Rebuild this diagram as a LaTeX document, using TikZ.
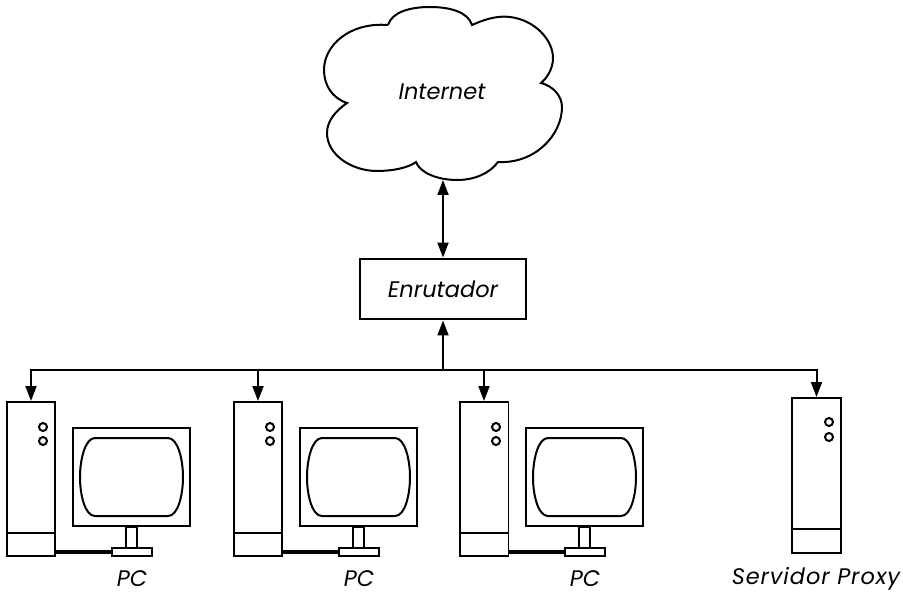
\documentclass[tikz,border=0pt]{standalone}
\usepackage{fontspec}
\setmainfont{Poppins}
\usetikzlibrary{arrows.meta}

\tikzset{
    outline/.style={draw=black,line width=0.04cm},
    link/.style={draw=black,line width=0.04cm,{Triangle[length=0.3cm,width=0.22cm]}-{Triangle[length=0.3cm,width=0.22cm]}},
    downlink/.style={draw=black,line width=0.04cm,-{Triangle[length=0.3cm,width=0.22cm]}},
    caseblock/.style={outline,shape=rectangle,minimum width=0.98cm,inner sep=0pt},
    led/.style={outline,shape=circle,minimum size=0.16cm,inner sep=0pt},
    caption/.style={font=\itshape\fontsize{12.8}{14}\selectfont,inner sep=0pt},
}

\begin{document}
\begin{tikzpicture}[x=0.02cm,y=-0.02cm]
    \useasboundingbox (0,0) rectangle (903,595);

    % cloud
    \path[outline] (388,25) .. controls (392,12) and (410,7) .. (430,7)
        .. controls (450,7) and (468,12) .. (472,25)
        .. controls (490,17) and (500,16) .. (510,17)
        .. controls (535,20) and (553,40) .. (553,58)
        .. controls (553,68) and (548,77) .. (541,83)
        .. controls (553,86) and (562,96) .. (562,107)
        .. controls (562,135) and (535,164) .. (498,162)
        .. controls (490,173) and (475,180) .. (457,180)
        .. controls (438,180) and (420,173) .. (416,162)
        .. controls (408,168) and (392,171) .. (377,171)
        .. controls (352,171) and (327,155) .. (327,133)
        .. controls (327,120) and (337,110) .. (347,103)
        .. controls (332,98) and (324,85) .. (324,70)
        .. controls (324,45) and (350,22) .. (388,25);
    \node[caption] (internet) at (442,92) {Internet};
    \coordinate (cloud) at (443,180);

    \node[outline,minimum width=3.34cm,minimum height=1.22cm,caption,inner sep=0pt] (router) at (443,289) {Enrutador};
    \coordinate (bus) at (443,370);

    \path[link] (cloud) -- (router);
    \path[downlink] (bus) -- (router);

    % pc towers and screens
    \foreach \n/\x in {a/0,b/227,c/453} {
        \begin{scope}[shift={(\x,0)}]
            \node[caseblock,minimum height=3.08cm] (case\n) at (31,479) {};
            \draw[outline] (6.5,533) -- (55.5,533);
            \node[led] (leda\n) at (43,427) {};
            \node[led] (ledb\n) at (43,441) {};

            \node[outline,minimum width=2.34cm,minimum height=1.96cm,inner sep=0pt] (monitor\n) at (131.5,477) {};
            \path[outline] (95,438) -- (168,438) .. controls (178,438) and (183,460) .. (183,477)
                .. controls (183,495) and (178,516) .. (168,516) -- (95,516)
                .. controls (85,516) and (80,495) .. (80,477) .. controls (80,460) and (85,438) .. (95,438);
            \node[outline,minimum width=0.22cm,minimum height=0.42cm,inner sep=0pt] (neck\n) at (131.5,537) {};
            \node[outline,minimum width=0.8cm,minimum height=0.16cm,inner sep=0pt] (base\n) at (132,552) {};
            \node[caption] (label\n) at (132,579) {PC};

            \draw[black,line width=0.08cm] (case\n.south east |- base\n.west) -- (base\n.west);
        \end{scope}
    }

    % proxy
    \node[caseblock,minimum height=3.1cm] (cased) at (816.5,475.5) {};
    \draw[outline] (792,529) -- (841,529);
    \node[led] (leda) at (829,422) {};
    \node[led] (ledb) at (829,437) {};
    \node[caption,font=\itshape\fontsize{12.8}{14}\selectfont\addfontfeatures{LetterSpace=4}] (labeld) at (816,579) {Servidor Proxy};

    % bus
    \path[downlink] (bus) -| (casea.north);
    \path[downlink] (bus) -| (caseb.north);
    \path[downlink] (bus) -| (casec.north);
    \path[downlink] (bus) -| (cased.north);
\end{tikzpicture}
\end{document}
